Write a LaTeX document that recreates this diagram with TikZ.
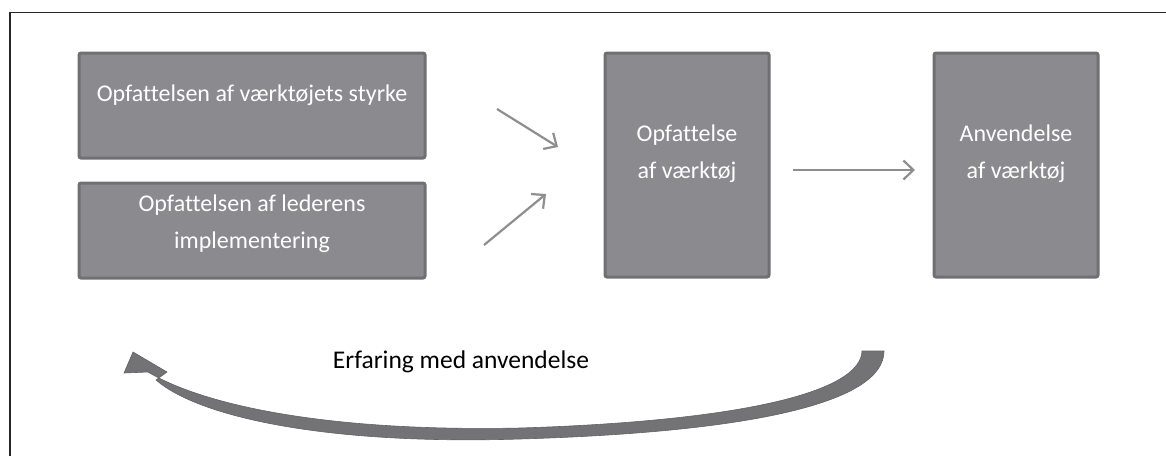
\documentclass[tikz,border=0pt]{standalone}
\usepackage{fontspec}
\setmainfont{Carlito}[Ligatures=NoCommon]
\usetikzlibrary{arrows.meta}
\definecolor{boxfill}{HTML}{8B8B8F}
\definecolor{boxedge}{HTML}{707074}
\definecolor{arrgray}{HTML}{8E8E8E}
\definecolor{curvegray}{HTML}{737376}
\begin{document}
\begin{tikzpicture}[x=1pt,y=-1pt,
  stepbox/.style={draw=boxedge,fill=boxfill,line width=3pt,rounded corners=2pt,inner sep=0pt},
  boxtext/.style={text=white,font=\fontsize{24}{37}\selectfont,align=center,inner sep=0pt},
  thinarrow/.style={draw=arrgray,line width=2.2pt,-{Straight Barb[length=10pt,width=19pt,line width=2.2pt]}},
  ]
\useasboundingbox (0,0) rectangle (1166,456);
% frame (top and left only)
\draw[line width=1.6pt,color=black!85] (1166,12.5) coordinate (fr) -- (10,12.5) coordinate (fc) -- (10,456) coordinate (fb);
% boxes
\node[stepbox,minimum width=346pt,minimum height=105pt] (b1) at (252,105.5) {};
\node[stepbox,minimum width=346pt,minimum height=95pt] (b2) at (252,230.5) {};
\node[stepbox,minimum width=164pt,minimum height=224pt] (b3) at (687,165) {};
\node[stepbox,minimum width=164pt,minimum height=224pt] (b4) at (1016,165) {};
% texts
\node[boxtext] (t1) at (252,95) {Opfattelsen af værktøjets styrke};
\node[boxtext] (t2) at (252,224) {Opfattelsen af lederens\\implementering};
\node[boxtext] (t3) at (687,154) {Opfattelse\\af værktøj};
\node[boxtext] (t4) at (1016,154) {Anvendelse\\af værktøj};
\node[font=\fontsize{25.5}{30}\selectfont,text=black,inner sep=0pt] (lab) at (461,362) {Erfaring med anvendelse};
% straight arrows
\coordinate (a1s) at (497,109); \coordinate (a1e) at (558,147);
\coordinate (a2s) at (484,245); \coordinate (a2e) at (546,194);
\coordinate (a3s) at (793,170); \coordinate (a3e) at (915,170);
\draw[thinarrow] (a1s) -- (a1e);
\draw[thinarrow] (a2s) -- (a2e);
\draw[thinarrow] (a3s) -- (a3e);
% curved feedback arrow
\fill[curvegray,draw=curvegray!85!black,line width=0.6pt]
  (884,351) .. controls (884,402) and (755,432) .. (520,439)
  .. controls (330,445) and (200,418) .. (156,380)
  -- (167,372) -- (133,352) -- (124,373) -- (148,372)
  .. controls (205,406) and (330,432) .. (520,428)
  .. controls (742,421) and (861,392) .. (862,351) -- cycle;
\end{tikzpicture}
\end{document}
